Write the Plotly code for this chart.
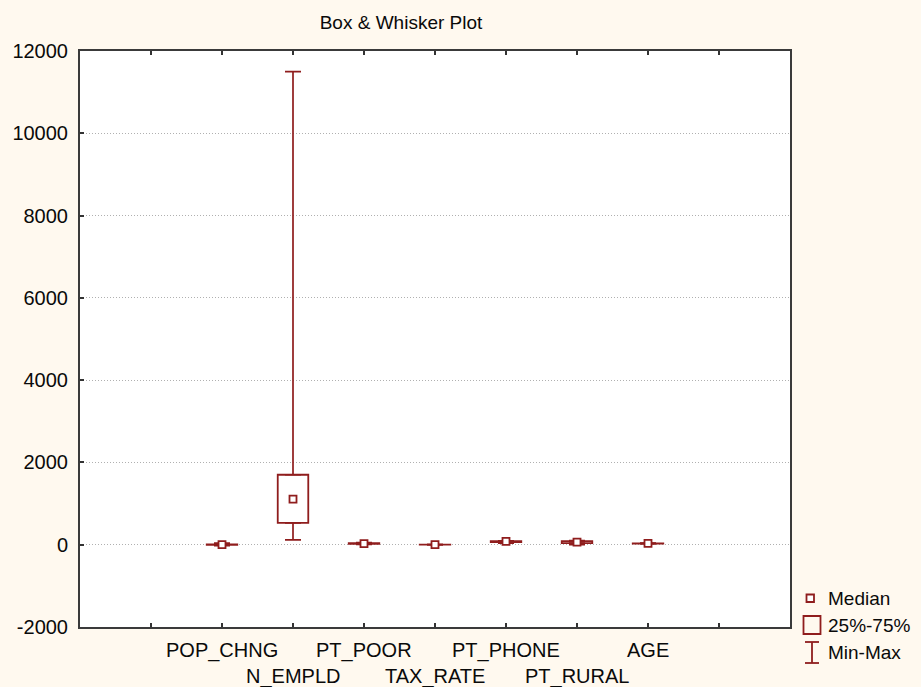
import plotly.graph_objects as go

categories = ["POP_CHNG", "N_EMPLD", "PT_POOR", "TAX_RATE", "PT_PHONE", "PT_RURAL", "AGE"]
mins    = [-20, 120, 10, 0.3, 40, 0, 25]
q1s     = [-5, 530, 20, 0.6, 65, 40, 30]
medians = [2, 1110, 25, 0.8, 80, 65, 32]
q3s     = [8, 1700, 35, 1.0, 88, 85, 34]
maxs    = [40, 11500, 50, 2.0, 95, 100, 38]

y_ticks = list(range(-2000, 12001, 2000))
legend_labels = ["Median", "25%-75%", "Min-Max"]

RED = "#8f1d1d"
FONT = "Liberation Sans, Arial, sans-serif"
W, H = 921, 687
L, R, T, B = 80, 131, 51, 60
PW, PH = W - L - R, H - T - B

xpos = [i + 2 for i in range(len(categories))]

fig = go.Figure()

# whiskers (upper: from q3 to max, lower: from q1 to min)
fig.add_trace(go.Scatter(
    x=xpos, y=q3s, mode="markers", marker=dict(size=1, opacity=0),
    error_y=dict(type="data", symmetric=False,
                 array=[mx - q for mx, q in zip(maxs, q3s)],
                 arrayminus=[0] * len(q3s),
                 color=RED, thickness=1.7, width=8),
    showlegend=False, hoverinfo="skip"))
fig.add_trace(go.Scatter(
    x=xpos, y=q1s, mode="markers", marker=dict(size=1, opacity=0),
    error_y=dict(type="data", symmetric=False,
                 array=[0] * len(q1s),
                 arrayminus=[q - mn for q, mn in zip(q1s, mins)],
                 color=RED, thickness=1.7, width=8),
    showlegend=False, hoverinfo="skip"))

# boxes
fig.add_trace(go.Bar(
    x=xpos, y=[b - a for a, b in zip(q1s, q3s)], base=q1s, width=0.43,
    marker=dict(color="white", line=dict(color=RED, width=1.8)),
    showlegend=False, hoverinfo="skip"))

# medians
fig.add_trace(go.Scatter(
    x=xpos, y=medians, mode="markers",
    marker=dict(symbol="square", size=7, color="white", line=dict(color=RED, width=1.8)),
    showlegend=False))

def px(xp):
    return (xp - L) / PW

def py(yp):
    return (H - B - yp) / PH

shapes = []
annotations = []

# category labels, staggered in two rows
for i, (xv, name) in enumerate(zip(xpos, categories)):
    row_y = 650 if i % 2 == 0 else 676
    annotations.append(dict(x=xv, y=py(row_y), xref="x", yref="paper", text=name,
                            showarrow=False, xanchor="center", yanchor="middle",
                            font=dict(family=FONT, size=20, color="#0a0a0a")))

# legend
shapes.append(dict(type="rect", xref="paper", yref="paper",
                   x0=px(806.5), x1=px(814), y0=py(594.5), y1=py(602),
                   line=dict(color=RED, width=1.8), fillcolor="white"))
shapes.append(dict(type="rect", xref="paper", yref="paper",
                   x0=px(803.5), x1=px(820.5), y0=py(616), y1=py(634),
                   line=dict(color=RED, width=1.8), fillcolor="rgba(0,0,0,0)"))
shapes.append(dict(type="line", xref="paper", yref="paper",
                   x0=px(812), x1=px(812), y0=py(642), y1=py(663),
                   line=dict(color=RED, width=1.8)))
shapes.append(dict(type="line", xref="paper", yref="paper",
                   x0=px(805), x1=px(819), y0=py(642), y1=py(642),
                   line=dict(color=RED, width=1.8)))
shapes.append(dict(type="line", xref="paper", yref="paper",
                   x0=px(805), x1=px(819), y0=py(663), y1=py(663),
                   line=dict(color=RED, width=1.8)))
for lab, yy in zip(legend_labels, [598, 625, 652]):
    annotations.append(dict(x=px(826), y=py(yy), xref="paper", yref="paper", text=lab,
                            showarrow=False, xanchor="left", yanchor="middle",
                            font=dict(family=FONT, size=19, color="#0a0a0a")))

fig.update_layout(
    width=W, height=H,
    margin=dict(l=L, r=R, t=T, b=B),
    paper_bgcolor="#fff9ef",
    plot_bgcolor="white",
    showlegend=False,
    title=dict(text="Box & Whisker Plot", x=px(401), xref="paper", xanchor="center",
               y=1 - 22 / H, yref="container", yanchor="middle",
               font=dict(family=FONT, size=19, color="#0a0a0a")),
    shapes=shapes,
    annotations=annotations,
    xaxis=dict(range=[0, 10], tickvals=list(range(1, 10)), showticklabels=False,
               ticks="inside", ticklen=4, tickwidth=2, tickcolor="#333",
               showline=True, linecolor="#3a3a3a", linewidth=2, mirror="ticks",
               showgrid=False, zeroline=False, fixedrange=True),
    yaxis=dict(range=[-2000, 12000], tickvals=y_ticks, ticktext=[str(v) for v in y_ticks],
               ticks="inside", ticklen=4, tickwidth=2, tickcolor="#333",
               showline=True, linecolor="#3a3a3a", linewidth=2, mirror=True,
               showgrid=True, gridcolor="#b0b0b0", griddash="1px,2px", gridwidth=1,
               zeroline=False, ticklabelstandoff=6, fixedrange=True,
               tickfont=dict(family=FONT, size=20, color="#0a0a0a")),
)

fig.write_html("out.html", config={"displayModeBar": False},
               post_script="document.body.style.margin='0';document.body.style.background='#fff9ef';")
